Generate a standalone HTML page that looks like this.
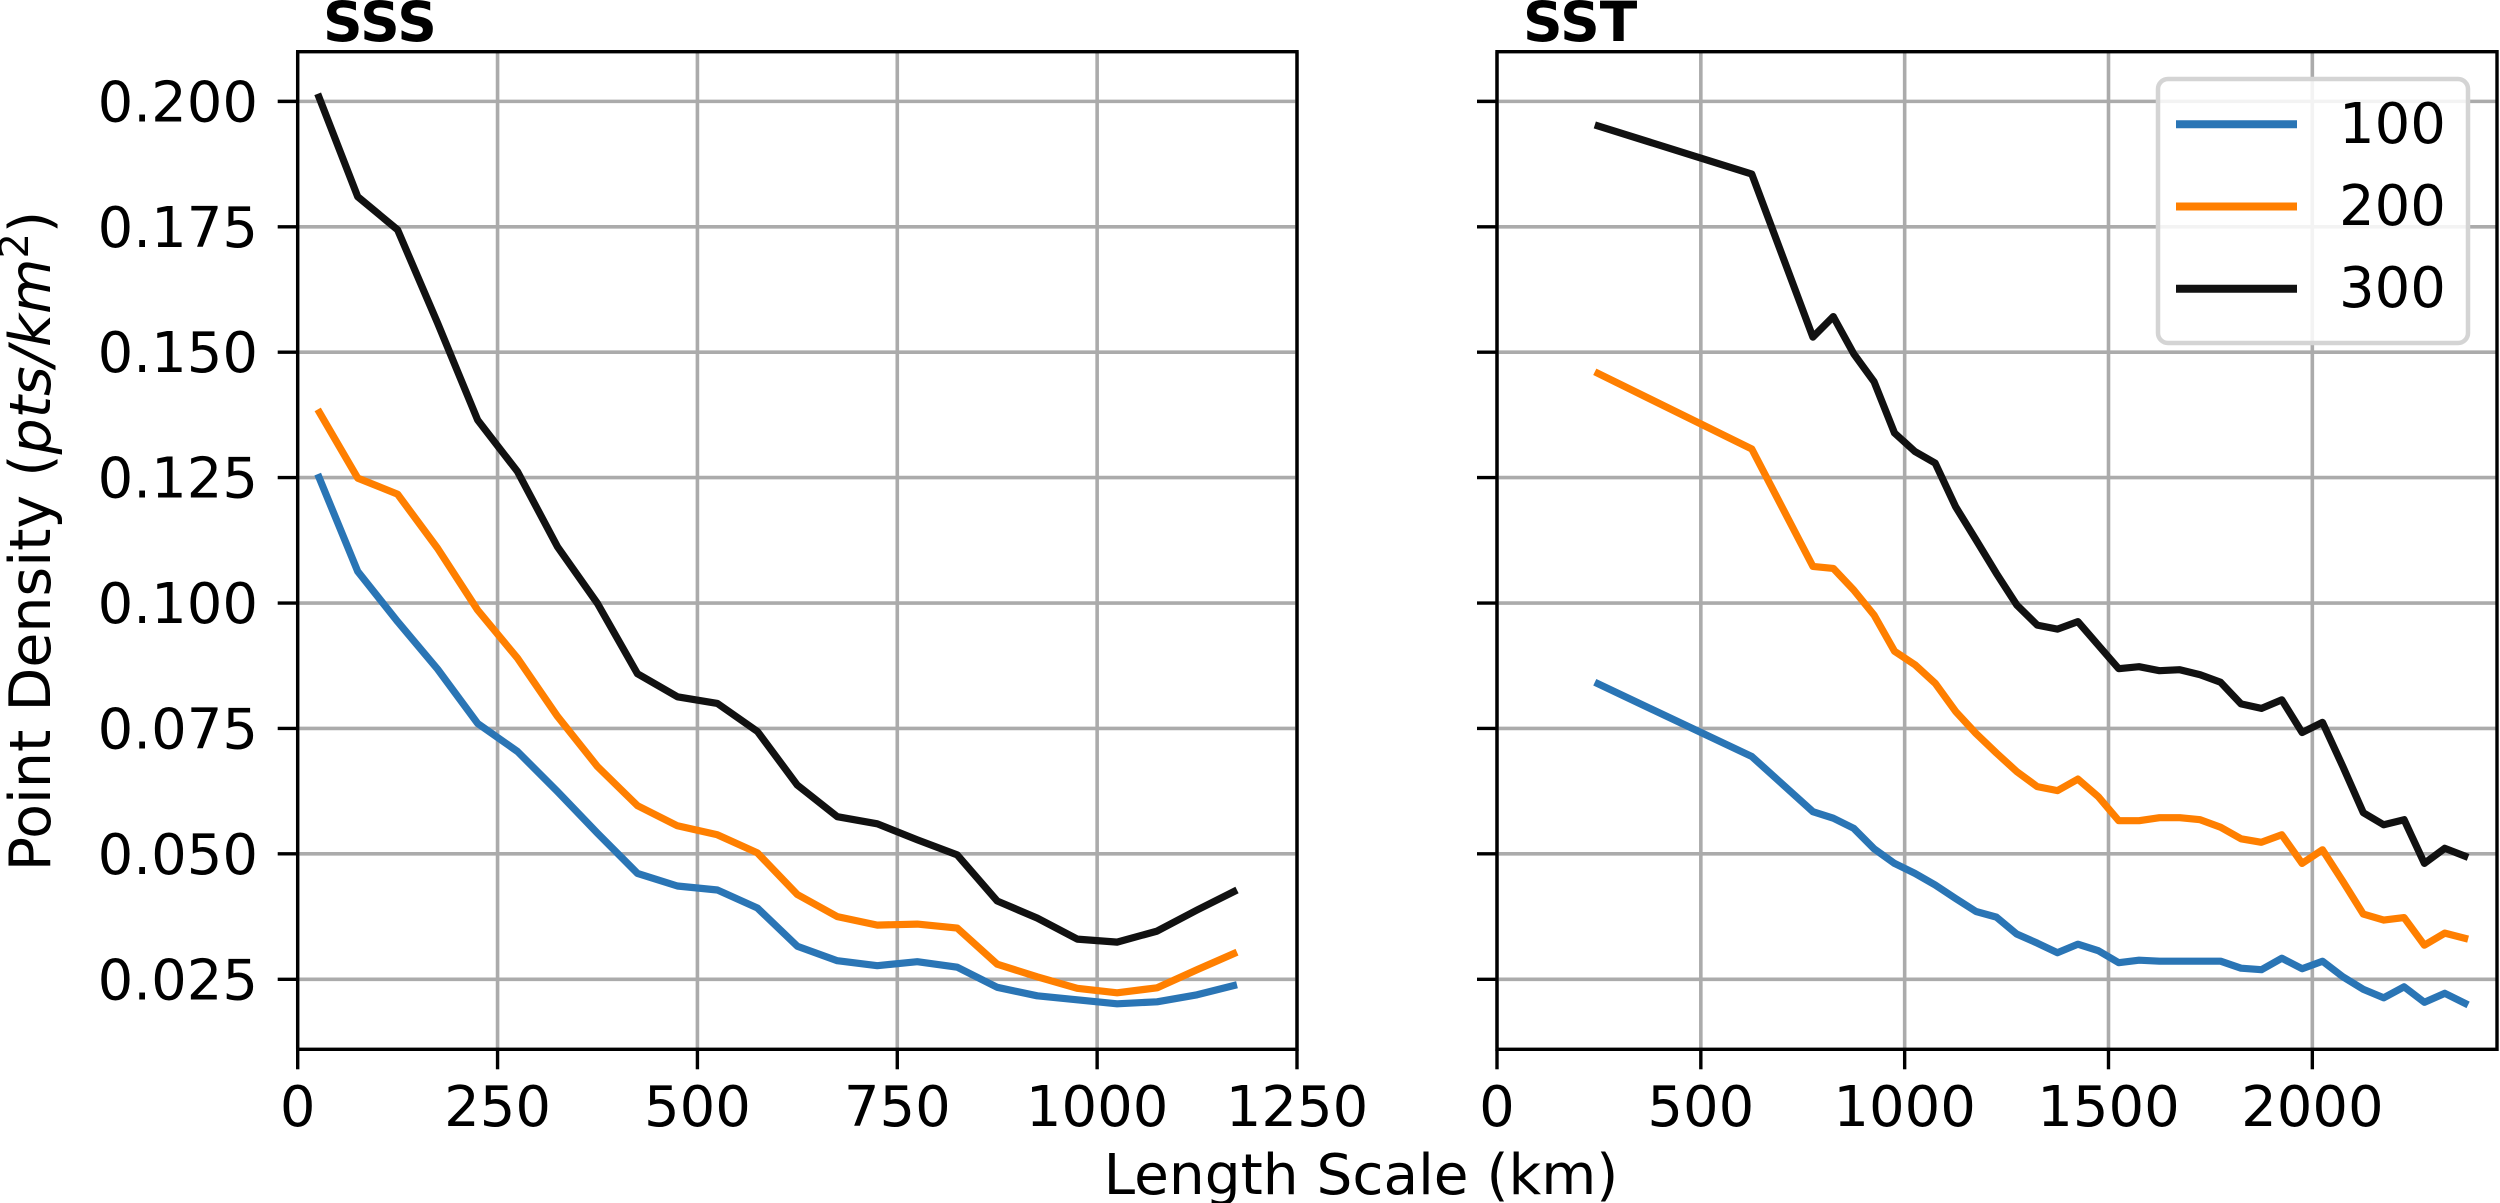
<!DOCTYPE html>
<html lang="en">
<head>
<meta charset="utf-8">
<title>Point Density vs Length Scale</title>
<style>
html,body{margin:0;padding:0;background:#fff;width:2500px;height:1203px;overflow:hidden}
svg{display:block}
text{font-family:"DejaVu Sans","Liberation Sans",sans-serif;fill:#000}
</style>
</head>
<body>
<svg id="chart" xmlns="http://www.w3.org/2000/svg" width="2500" height="1203" viewBox="0 0 2500 1203">
  <rect x="0" y="0" width="2500" height="1203" fill="#fff"/>
  <g id="sss-panel"></g>
  <g id="sst-panel"></g>
  <text x="323" y="41" font-size="55" font-weight="700">SSS</text>
  <text x="1523" y="41" font-size="55" font-weight="700">SST</text>
  <text x="1361" y="1194" font-size="56.5" text-anchor="middle">Length Scale (km)</text>
  <text transform="translate(50,541) rotate(-90)" font-size="57" text-anchor="middle">Point Density (<tspan font-style="italic">pts/km</tspan><tspan font-size="40" dy="-22">2</tspan><tspan dy="22">)</tspan></text>
  <g id="legend"></g>
</svg>
<script>
const sssLengths = [25,75,125,175,225,275,325,375,425,475,525,575,625,675,725,775,825,875,925,975,1025,1075,1125,1175];
const sss100 = [.1257,.1063,.0963,.0868,.0760,.0704,.0624,.0541,.0461,.0436,.0428,.0392,.0316,.0287,.0277,.0285,.0274,.0234,.0217,.0209,.0201,.0205,.0219,.0239];
const sss200 = [.1386,.1249,.1217,.1109,.0986,.0890,.0774,.0674,.0596,.0556,.0538,.0502,.0419,.0375,.0358,.0360,.0352,.0280,.0255,.0232,.0223,.0233,.0269,.0304];
const sss300 = [.2015,.1810,.1744,.1558,.1365,.1262,.1112,.0999,.0859,.0813,.0800,.0744,.0637,.0574,.0560,.0528,.0498,.0406,.0372,.0330,.0324,.0346,.0388,.0428];

const sstLengths = [240,625,775,825,875,925,975,1025,1075,1125,1175,1225,1275,1325,1375,1425,1475,1525,1575,1625,1675,1725,1775,1825,1875,1925,1975,2025,2075,2125,2175,2225,2275,2325,2382];
const sst100 = [.0842,.0694,.0584,.0571,.0551,.0510,.0481,.0461,.0438,.0411,.0385,.0374,.0340,.0322,.0303,.0320,.0307,.0283,.0288,.0286,.0286,.0286,.0286,.0272,.0269,.0292,.0271,.0286,.0255,.0230,.0213,.0235,.0204,.0222,.0199];
const sst200 = [.1461,.1307,.1073,.1069,.1026,.0976,.0904,.0877,.0840,.0784,.0740,.0701,.0664,.0634,.0626,.0649,.0614,.0566,.0566,.0572,.0572,.0568,.0553,.0530,.0523,.0538,.0481,.0508,.0445,.0380,.0368,.0373,.0318,.0342,.0330];
const sst300 = [.1953,.1855,.1530,.1571,.1497,.1441,.1339,.1302,.1279,.1192,.1126,.1059,.0996,.0956,.0948,.0963,.0916,.0869,.0873,.0865,.0867,.0857,.0842,.0799,.0790,.0807,.0742,.0762,.0674,.0582,.0558,.0568,.0481,.0511,.0493];

const yTicks = [0.025,0.050,0.075,0.100,0.125,0.150,0.175,0.200];
const yTickLabels = ["0.025","0.050","0.075","0.100","0.125","0.150","0.175","0.200"];
const sssXTicks = [0,250,500,750,1000,1250];
const sstXTicks = [0,500,1000,1500,2000];
const legendLabels = ["100","200","300"];
const seriesColors = ["#2a75b5","#ff7f00","#111111"];

const NS = "http://www.w3.org/2000/svg";
function mk(parent, tag, attrs, txt){
  const el = document.createElementNS(NS, tag);
  for (const k in attrs) el.setAttribute(k, attrs[k]);
  if (txt !== undefined) el.textContent = txt;
  parent.appendChild(el);
  return el;
}
const Y_TOP = 51.7, Y_BOT = 1049.3;
const yScale = v => Y_BOT + (v - 0.01104) / (0.2099 - 0.01104) * (Y_TOP - Y_BOT);

function drawPanel(panelId, left, right, xMax, xTicks, lengths, seriesList, showY, key){
  const g = document.getElementById(panelId);
  const xScale = v => left + v / xMax * (right - left);

  xTicks.forEach(t => {
    const gl = mk(g, "line", {x1:xScale(t), x2:xScale(t), y1:Y_TOP, y2:Y_BOT, stroke:"#ababab", "stroke-width":3.6});
    
    
  });
  yTicks.forEach(t => {
    const gl = mk(g, "line", {x1:left, x2:right, y1:yScale(t), y2:yScale(t), stroke:"#ababab", "stroke-width":3.6});
    
    
  });

  seriesList.forEach((vals, i) => {
    const pts = vals.map((v, j) => xScale(lengths[j]).toFixed(1) + "," + yScale(v).toFixed(1)).join(" ");
    const pl = mk(g, "polyline", {points:pts, fill:"none", stroke:seriesColors[i], "stroke-width":7.2, "stroke-linejoin":"round", "stroke-linecap":"butt"});
    
    
  });

  const frame = mk(g, "rect", {x:left, y:Y_TOP, width:right-left, height:Y_BOT-Y_TOP, fill:"none", stroke:"#000", "stroke-width":3.4});
  
  

  xTicks.forEach(t => {
    const tk = mk(g, "line", {x1:xScale(t), x2:xScale(t), y1:Y_BOT, y2:Y_BOT+20, stroke:"#000", "stroke-width":3.4});
    
    
    const lb = mk(g, "text", {x:xScale(t), y:1126, "font-size":56, "text-anchor":"middle"}, String(t));
    
    
  });
  yTicks.forEach((t, i) => {
    const tk = mk(g, "line", {x1:left-20, x2:left, y1:yScale(t), y2:yScale(t), stroke:"#000", "stroke-width":3.4});
    
    
    if (showY) {
      const lb = mk(g, "text", {x:258, y:yScale(t)+20, "font-size":56, "text-anchor":"end"}, yTickLabels[i]);
      
      
    }
  });
}

drawPanel("sss-panel", 297.7, 1297, 1250, sssXTicks, sssLengths, [sss100, sss200, sss300], true, "sss");
drawPanel("sst-panel", 1497, 2497, 2453, sstXTicks, sstLengths, [sst100, sst200, sst300], false, "sst");

const lg = document.getElementById("legend");
const box = mk(lg, "rect", {x:2158, y:79, width:310, height:264, rx:10, ry:10, fill:"#fff", "fill-opacity":0.85, stroke:"#d4d4d4", "stroke-width":4.5});


const legendSwatchY = [124.3, 206.5, 288.7];
legendLabels.forEach((name, i) => {
  const ln = mk(lg, "line", {x1:2176, x2:2297, y1:legendSwatchY[i], y2:legendSwatchY[i], stroke:seriesColors[i], "stroke-width":8});
  
  
  const tx = mk(lg, "text", {x:2339, y:legendSwatchY[i]+18.5, "font-size":56}, name);
  
  
});
</script>
</body>
</html>
